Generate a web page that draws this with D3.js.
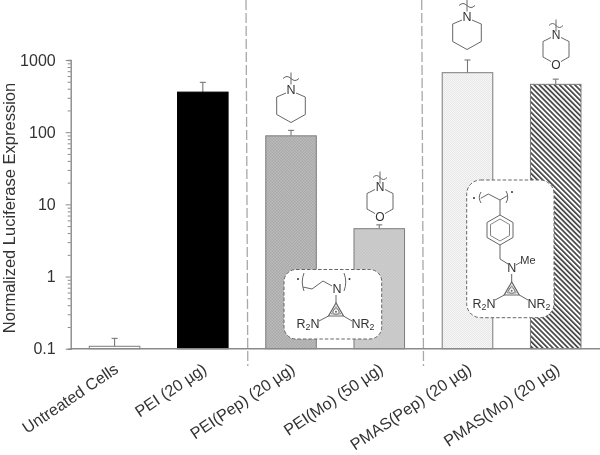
<!DOCTYPE html>
<html><head><meta charset="utf-8">
<style>html,body{margin:0;padding:0;background:#fff}svg{display:block;filter:blur(0.35px)}</style>
<script src="https://cdn.jsdelivr.net/npm/d3@7/dist/d3.min.js"></script>
</head><body><svg id="c" width="600" height="455"></svg>
<script>
const categories = ["Untreated Cells","PEI (20 µg)","PEI(Pep) (20 µg)","PEI(Mo) (50 µg)","PMAS(Pep) (20 µg)","PMAS(Mo) (20 µg)"];
const values = [0.108,359,89,4.6,667,460];
const errorTops = [0.139,490,106,5.2,1000,543];
const fills = ["#ffffff","#000000","url(#pPep)","url(#pMo)","url(#pPmasPep)","url(#pHatch)"];
const majorTicks = [0.1,1,10,100,1000];
const minorMultipliers = [2,3,4,5,6,7,8,9];
const yTitle = "Normalized Luciferase Expression";
const FONT = "'Liberation Sans',Arial,sans-serif", TXT = "#333", AX = "#8a8a8a";

const svg = d3.select("#c");
const defs = svg.append("defs");
function dotPattern(id, bg, fg, s){
  const p = defs.append("pattern").attr("id",id).attr("width",s).attr("height",s).attr("patternUnits","userSpaceOnUse");
  p.append("rect").attr("width",s).attr("height",s).attr("fill",bg);
  p.append("rect").attr("width",s/2).attr("height",s/2).attr("fill",fg);
  p.append("rect").attr("x",s/2).attr("y",s/2).attr("width",s/2).attr("height",s/2).attr("fill",fg);
}
dotPattern("pPep","#bcbcbc","#a8a8a8",3);
dotPattern("pMo","#cfcfcf","#c4c4c4",3);
dotPattern("pPmasPep","#f6f6f6","#e8e8e8",2);
const hp = defs.append("pattern").attr("id","pHatch").attr("width",3.6).attr("height",3.6)
  .attr("patternUnits","userSpaceOnUse").attr("patternTransform","rotate(-45)");
hp.append("rect").attr("width",3.6).attr("height",3.6).attr("fill","#fff");
hp.append("rect").attr("width",1.7).attr("height",3.6).attr("fill","#444");

const y = d3.scaleLog().domain([0.1,1000]).range([348.7,60]);
const x = d3.scaleBand().domain(categories).range([89.3,581]).paddingInner(0.427).paddingOuter(0);

// bars
const bars = svg.append("g");
const idx = categories.map((c,i)=>i);
bars.selectAll("line.err").data(idx).join("line").attr("class","err")
  .attr("x1",i=>x(categories[i])+x.bandwidth()/2).attr("x2",i=>x(categories[i])+x.bandwidth()/2)
  .attr("y1",i=>y(values[i])).attr("y2",i=>y(errorTops[i])).attr("stroke","#777").attr("stroke-width",1.1);
bars.selectAll("line.cap").data(idx).join("line").attr("class","cap")
  .attr("x1",i=>x(categories[i])+x.bandwidth()/2-3).attr("x2",i=>x(categories[i])+x.bandwidth()/2+3)
  .attr("y1",i=>y(errorTops[i])).attr("y2",i=>y(errorTops[i])).attr("stroke","#777").attr("stroke-width",1.1);
bars.selectAll("rect").data(idx).join("rect")
  .attr("x",i=>x(categories[i])).attr("width",x.bandwidth())
  .attr("y",i=>y(values[i])).attr("height",i=>y(0.1)-y(values[i]))
  .attr("fill",i=>fills[i]).attr("stroke",i=>i===1?"#000":"#7c7c7c").attr("stroke-width",1);

// y axis
const minors = majorTicks.slice(0,-1).flatMap(t=>minorMultipliers.map(m=>t*m));
const yg = svg.append("g").attr("transform","translate(70.7,0)");
yg.call(d3.axisLeft(y).tickValues(majorTicks.concat(minors)).tickSize(3).tickPadding(6)
  .tickFormat(d=>majorTicks.includes(d)?String(d):""));
yg.selectAll(".tick line").attr("stroke",AX).attr("stroke-width",1)
  .attr("x2",d=>majorTicks.includes(d)?-5:-3);
yg.select(".domain").attr("stroke",AX).attr("stroke-width",1.4);
yg.selectAll("text").attr("font-family",FONT).attr("font-size",16).attr("fill",TXT).attr("x",-15);

// x axis
const xg = svg.append("g").attr("transform","translate(0,348.7)");
xg.call(d3.axisBottom(x).tickSize(0));
xg.select(".domain").remove();
xg.append("line").attr("x1",70.7).attr("x2",600).attr("stroke",AX).attr("stroke-width",1.6);
xg.selectAll(".tick text").attr("font-family",FONT).attr("font-size",16.2).attr("fill",TXT)
  .attr("text-anchor","end").attr("dy",0).attr("y",0)
  .attr("transform","translate(5,23) rotate(-34)");

// y title
svg.append("text").attr("transform","translate(15,208) rotate(-90)").attr("text-anchor","middle")
  .attr("font-family",FONT).attr("font-size",16.5).attr("fill",TXT).text(yTitle);

// dividers
[[246,247.8],[421.7,423.5]].forEach(([a,b])=>{
  svg.append("line").attr("x1",a).attr("y1",0).attr("x2",b).attr("y2",366)
    .attr("stroke","#a8a8a8").attr("stroke-width",1.3).attr("stroke-dasharray","10,3");
});

// chemical structure sketches
const INK="#666";
function poly(g,pts,close,w){
  const p=d3.path(); pts.forEach((q,i)=>i?p.lineTo(q[0],q[1]):p.moveTo(q[0],q[1])); if(close)p.closePath();
  return g.append("path").attr("d",p.toString()).attr("fill","none").attr("stroke",INK).attr("stroke-width",w||1);
}
function label(g,px,py,s,size,sub){
  const t=g.append("text").attr("x",px).attr("y",py).attr("text-anchor","middle").attr("dominant-baseline","central")
    .attr("font-family",FONT).attr("font-size",size||12).attr("fill",TXT);
  if(sub){ t.text(s[0]); t.append("tspan").attr("font-size",(size||12)*.7).attr("dy",3).text(s[1]);
    if(s[2]) t.append("tspan").attr("font-size",size||12).attr("dy",-3).text(s[2]); }
  else t.text(s);
}
function wave(g,cy,hw){
  poly(g,[[0,cy-5],[0,cy+7]]);
  g.append("path").attr("d",`M${-hw},${cy+1} q${hw/2},-4 ${hw},0 q${hw/2},4 ${hw},0`).attr("fill","none").attr("stroke",INK);
}
function piperidine(cx,cy){
  const g=svg.append("g").attr("transform",`translate(${cx},${cy})`);
  wave(g,-12.5,8);
  poly(g,[[5,3],[14.3,7],[14.3,24.5],[0,32.5],[-14.3,24.5],[-14.3,7],[-5,3]]);
  label(g,0,0,"N",12.5);
}
function morpholine(cx,cy){
  const g=svg.append("g").attr("transform",`translate(${cx},${cy})`);
  wave(g,-10.5,7);
  poly(g,[[5,2.5],[13,6.5],[13,22],[5,26.5]]);
  poly(g,[[-5,2.5],[-13,6.5],[-13,22],[-5,26.5]]);
  label(g,0,0,"N",12); label(g,0,30,"O",12);
}
function cyclopropenium(g,cx,ty){
  poly(g,[[cx,ty],[cx-7.5,ty+13],[cx+7.5,ty+13]],true,1.2);
  poly(g,[[cx,ty+3.5],[cx-4.6,ty+11],[cx+4.6,ty+11]],true,.7);
  g.append("circle").attr("cx",cx).attr("cy",ty+8.7).attr("r",1).attr("fill",INK);
  g.append("circle").attr("cx",cx).attr("cy",ty+8.7).attr("r",3).attr("fill","none").attr("stroke",INK).attr("stroke-width",.6);
}
function box(g,bx,by,w,h,r){
  g.append("rect").attr("x",bx).attr("y",by).attr("width",w).attr("height",h).attr("rx",r)
    .attr("fill","#fff").attr("stroke","#666").attr("stroke-width",1).attr("stroke-dasharray","3.5,2");
}
function bracket(g,px,y0,y1,dir){
  g.append("path").attr("d",`M${px},${y0} Q${px+dir*3.5},${(y0+y1)/2} ${px},${y1}`).attr("fill","none").attr("stroke",INK);
}
piperidine(291,90);
piperidine(467,17);
morpholine(380,187);
morpholine(556,35);

const ins1=svg.append("g");
box(ins1,284,269.5,97.7,69.5,12);
label(ins1,298,278,"•",7); label(ins1,349.5,278,"•",7);
bracket(ins1,304,273,291,-1); bracket(ins1,344,273,291,1);
poly(ins1,[[303,287],[312,289],[323,281],[332,286]]);
label(ins1,337,289,"N",12.5);
poly(ins1,[[336,295],[336,303]]);
cyclopropenium(ins1,336,303);
poly(ins1,[[328.5,316],[319,321]]); poly(ins1,[[343.5,316],[352,321]]);
label(ins1,308,324,["R","2","N"],12.5,true);
label(ins1,363,324,["NR","2"],12.5,true);

const ins2=svg.append("g");
box(ins2,466.7,180,87.3,137.7,14);
label(ins2,474,197.7,"•",7); label(ins2,512,191,"•",7);
bracket(ins2,481,192,203,-1); bracket(ins2,506,191,203,1);
poly(ins2,[[480.7,198.3],[488.3,194],[500,200],[507.3,195.7]]);
poly(ins2,[[500,200],[500,215]]);
poly(ins2,[[500,215],[513,222.5],[513,237.5],[500,245],[487,237.5],[487,222.5]],true);
poly(ins2,[[500,219],[509.5,224.5],[509.5,235.5],[500,241],[490.5,235.5],[490.5,224.5]],true,.8);
poly(ins2,[[500,245],[500,259],[508,264]]);
label(ins2,511.7,268,"N",12.5);
poly(ins2,[[516,265],[521,262]]);
label(ins2,528,260,"Me",11);
poly(ins2,[[511.7,274],[511.7,282]]);
cyclopropenium(ins2,511.7,282);
poly(ins2,[[504.3,295],[495,300]]); poly(ins2,[[519.3,295],[528,300]]);
label(ins2,484,303.5,["R","2","N"],12.5,true);
label(ins2,539,303.5,["NR","2"],12.5,true);
</script></body></html>
